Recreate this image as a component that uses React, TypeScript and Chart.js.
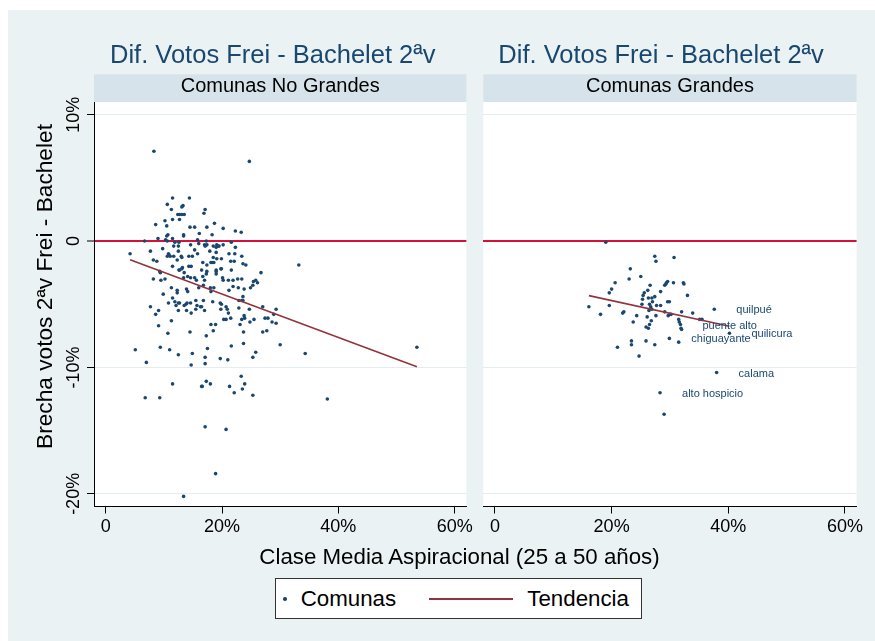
import React, { useEffect, useRef } from 'react';
import { Chart, registerables } from 'chart.js';

Chart.register(...registerables);

const FONT = '"Liberation Sans", Arial, Helvetica, sans-serif';
const NAVY = '#1A476F';
const MAROON = '#90353B';
const RED = '#D6103C';
const BG = '#EAF2F3';
const STRIP = '#D7E3EA';
const GRID = '#E3ECEE';

const panelTitle = 'Dif. Votos Frei - Bachelet 2ªv';
const stripLabels = ['Comunas No Grandes', 'Comunas Grandes'];
const yAxisTitle = 'Brecha votos 2ªv Frei - Bachelet';
const xAxisTitle = 'Clase Media Aspiracional (25 a 50 años)';
const legendLabels = ['Comunas', 'Tendencia'];
const xTicks = [0, 20, 40, 60];
const yTicks = [-20, -10, 0, 10];
const xRange = [-2.0, 62.0];
const yRange = [-21.0, 11.0];

// Comunas No Grandes (x: % clase media aspiracional, y: brecha %)
const leftX = [
  8.3, 24.7, 11.5, 14.4, 10.6, 11.3, 13.3, 13.1, 17.1, 16.9, 12.4, 12.7, 13.1, 13.5, 11.5, 12.7,
  10.2, 10.5, 8.6, 18.7, 14.5, 15.3, 17.4, 20.2, 22.3, 23.3, 16.1, 10.7, 10.5, 13.4, 13.4, 18.3,
  9.0, 11.5, 6.7, 10.3, 10.6, 15.8, 11.9, 12.6, 17.3, 21.6, 14.6, 16.0, 17.0, 17.4, 17.1, 19.1,
  19.5, 20.2, 18.5, 19.3, 19.0, 11.7, 12.5, 22.3, 9.8, 7.7, 12.5, 15.3, 15.8, 17.9, 19.0, 21.2,
  22.2, 23.4, 10.8, 10.9, 10.6, 11.1, 11.7, 13.0, 13.1, 14.3, 14.9, 8.2, 8.8, 12.3, 18.5, 19.9,
  21.5, 22.1, 18.1, 18.3, 16.7, 17.4, 18.6, 19.1, 14.7, 13.2, 11.5, 12.6, 14.3, 16.5, 17.4, 12.7,
  13.1, 19.0, 19.8, 19.9, 21.6, 23.6, 24.1, 26.7, 33.2, 9.3, 9.4, 13.5, 19.0, 4.2, 8.2, 9.5,
  10.2, 13.4, 14.1, 14.6, 15.3, 15.6, 16.7, 17.3, 17.0, 16.8, 19.0, 20.1, 20.2, 21.1, 21.9, 22.7,
  23.4, 21.9, 21.2, 22.8, 23.8, 24.9, 25.3, 25.4, 25.8, 26.1, 9.9, 11.3, 12.3, 12.3, 13.9, 14.1,
  16.0, 18.0, 18.6, 18.1, 23.6, 23.6, 22.9, 11.5, 10.8, 11.9, 12.5, 12.7, 13.5, 13.8, 14.0, 14.6,
  15.5, 15.7, 16.3, 16.5, 16.8, 17.0, 15.5, 14.7, 13.9, 12.5, 12.1, 7.7, 9.1, 8.6, 18.4, 19.7,
  19.9, 20.7, 20.9, 19.8, 20.3, 20.7, 21.5, 21.1, 23.4, 22.9, 24.7, 23.8, 23.4, 23.9, 25.5, 24.8,
  27.0, 27.4, 27.9, 28.9, 29.3, 28.6, 29.3, 9.1, 11.3, 10.7, 14.5, 17.3, 18.5, 18.1, 18.9, 23.7,
  23.1, 27.0, 27.7, 21.6, 23.7, 9.4, 11.0, 17.5, 5.1, 30.0, 12.5, 14.9, 17.1, 19.7, 21.0, 25.3,
  25.8, 34.3, 7.0, 17.1, 14.7, 53.5, 23.3, 11.5, 17.3, 16.5, 16.6, 18.0, 21.3, 23.9, 23.5, 22.1,
  25.3, 6.8, 9.3, 38.1, 17.1, 20.7, 18.9, 13.4,
];
const leftY = [
  7.1, 6.3, 3.4, 3.4, 2.9, 2.5, 2.8, 2.7, 2.5, 2.2, 2.1, 2.1, 2.1, 2.1, 1.7, 1.7,
  1.6, 1.2, 1.3, 1.4, 1.1, 1.1, 1.1, 1.0, 0.8, 0.7, 0.6, 0.5, 0.4, 0.5, 0.4, 0.5,
  0.2, 0.2, 0.0, 0.1, 0.0, 0.1, -0.1, -0.1, 0.0, -0.1, -0.3, -0.2, -0.3, -0.3, -0.4, -0.3,
  -0.4, -0.3, -0.4, -0.4, -0.5, -0.4, -0.4, -0.5, -0.6, -0.8, -0.8, -0.7, -1.0, -0.8, -0.9, -1.0,
  -1.0, -1.2, -1.0, -1.1, -1.2, -1.2, -1.2, -1.2, -1.3, -1.2, -1.2, -1.5, -1.6, -1.5, -1.3, -1.4,
  -1.6, -1.6, -1.7, -1.7, -1.7, -1.9, -1.7, -1.4, -2.0, -2.1, -2.0, -2.3, -2.0, -2.3, -2.4, -2.3,
  -2.2, -2.3, -2.2, -2.2, -2.3, -1.8, -1.9, -2.5, -1.9, -2.4, -2.5, -2.5, -2.4, -1.0, -3.0, -3.1,
  -3.0, -2.9, -2.8, -2.9, -2.9, -3.1, -2.8, -2.6, -3.1, -3.5, -2.6, -2.9, -3.1, -3.1, -3.1, -3.0,
  -3.0, -3.6, -3.9, -3.7, -3.8, -3.7, -3.5, -3.2, -3.1, -3.3, -4.2, -3.7, -3.9, -4.1, -3.8, -4.0,
  -3.7, -3.7, -3.7, -4.0, -4.4, -4.7, -4.7, -4.5, -4.9, -4.8, -4.9, -4.9, -5.1, -5.0, -4.9, -4.9,
  -4.7, -5.1, -5.2, -5.2, -4.7, -5.5, -5.4, -5.7, -5.5, -5.5, -5.1, -5.2, -5.5, -5.8, -4.8, -4.9,
  -5.0, -5.2, -5.4, -5.4, -6.2, -6.2, -6.1, -5.7, -4.7, -5.3, -5.4, -5.9, -6.2, -6.1, -6.2, -6.4,
  -5.2, -6.1, -6.1, -5.8, -5.4, -6.4, -6.5, -6.7, -6.3, -7.3, -7.2, -7.5, -7.1, -6.6, -6.6, -7.2,
  -6.6, -7.2, -7.1, -8.3, -8.1, -8.4, -8.6, -8.5, -8.6, -8.2, -9.0, -8.9, -9.2, -9.3, -9.4, -9.2,
  -8.8, -8.9, -9.6, -9.7, -9.8, -8.4, -10.7, -11.3, -11.1, -11.5, -11.5, -11.3, -11.5, -11.3, -11.7, -12.0,
  -12.2, -12.4, -12.4, -12.5, -14.7, -14.9, -18.4, -20.2,
];

// Comunas Grandes (unlabelled points)
const rightX = [
  19.0, 27.4, 27.6, 30.7, 23.2, 23.0, 25.0, 20.6, 20.0, 19.6, 19.6, 16.1, 18.1, 26.6, 26.2, 25.6,
  25.4, 25.3, 25.2, 26.3, 26.9, 27.4, 27.0, 26.5, 26.7, 26.9, 26.4, 28.4, 27.7, 28.4, 29.1, 29.4,
  29.6, 29.3, 30.6, 32.3, 32.4, 33.0, 29.6, 29.9, 29.1, 29.7, 30.0, 30.2, 32.0, 33.9, 35.1, 35.5,
  31.5, 31.6, 31.9, 32.0, 22.1, 21.9, 24.3, 23.7, 26.1, 26.8, 26.5, 25.9, 26.3, 27.6, 23.4, 23.4,
  25.9, 27.4, 31.5, 21.0, 24.7, 29.0,
];
const rightY = [
  -0.1, -1.2, -1.6, -1.3, -2.2, -3.0, -2.8, -3.3, -3.8, -4.1, -5.1, -5.2, -5.8, -3.5, -3.9, -4.1,
  -4.3, -4.6, -5.0, -4.5, -4.5, -4.4, -4.8, -5.0, -5.2, -5.4, -5.5, -4.0, -5.1, -5.1, -3.5, -3.3,
  -3.2, -3.4, -3.3, -3.3, -3.4, -4.3, -4.8, -4.8, -5.6, -5.9, -5.8, -5.8, -5.6, -5.7, -6.2, -6.2,
  -6.2, -6.4, -6.9, -7.0, -5.6, -5.7, -5.9, -6.4, -6.0, -6.3, -6.6, -6.8, -6.9, -5.9, -7.9, -8.2,
  -7.9, -8.2, -8.0, -8.4, -9.1, -13.7,
];

// Comunas Grandes (labelled points)
const labelNames = ['quilpué', 'puente alto', 'quilicura', 'chiguayante', 'calama', 'alto hospicio'];
const labelX = [37.6, 31.8, 40.2, 29.9, 38.0, 28.3];
const labelY = [-5.4, -6.6, -7.3, -7.7, -10.4, -12.0];

// Tendencia (linear fit endpoints)
const trendLeftX = [4.2, 53.5];
const trendLeftY = [-1.48, -9.95];
const trendRightX = [16.1, 40.2];
const trendRightY = [-4.32, -6.74];

const toPoints = (xs: number[], ys: number[]) => xs.map((x, i) => ({ x, y: ys[i] }));

type PanelOpts = {
  strip: string;
  showYAxis: boolean;
  padLeft: number;
  padRight: number;
  titleOffset: number;
  labels: boolean;
};

function makeDecor(o: PanelOpts) {
  return {
    id: 'panelDecor',
    beforeDraw(chart: any) {
      const { ctx, chartArea: a } = chart;
      ctx.save();
      ctx.fillStyle = '#ffffff';
      ctx.fillRect(a.left, a.top, a.right - a.left, a.bottom - a.top);
      // strip
      ctx.fillStyle = STRIP;
      ctx.fillRect(a.left, a.top - 27.7, a.right - a.left, 27.7);
      ctx.fillStyle = '#000';
      ctx.font = `20px ${FONT}`;
      ctx.textAlign = 'center';
      ctx.textBaseline = 'alphabetic';
      ctx.fillText(o.strip, (a.left + a.right) / 2, a.top - 10.3);
      // title
      ctx.fillStyle = NAVY;
      ctx.font = `25.5px ${FONT}`;
      ctx.textAlign = 'left';
      ctx.fillText(panelTitle, a.left + o.titleOffset, a.top - 38.7);
      if (o.showYAxis) {
        const ys = chart.scales.y;
        ctx.fillStyle = '#000';
        ctx.font = `18px ${FONT}`;
        ctx.textAlign = 'center';
        yTicks.forEach((v) => {
          const py = ys.getPixelForValue(v);
          ctx.save();
          ctx.translate(a.left - 14.7, py);
          ctx.rotate(-Math.PI / 2);
          ctx.fillText(v === 0 ? '0' : `${v}%`, 0, 0);
          ctx.restore();
        });
        ctx.save();
        ctx.font = `22.7px ${FONT}`;
        ctx.translate(43.7, 276.5);
        ctx.rotate(-Math.PI / 2);
        ctx.fillText(yAxisTitle, 0, 0);
        ctx.restore();
      }
      ctx.restore();
    },
    afterDatasetsDraw(chart: any) {
      if (!o.labels) return;
      const { ctx } = chart;
      const xs = chart.scales.x;
      const ys = chart.scales.y;
      ctx.save();
      ctx.fillStyle = NAVY;
      ctx.font = `11px ${FONT}`;
      ctx.textAlign = 'left';
      ctx.textBaseline = 'middle';
      labelNames.forEach((name, i) => {
        const px = xs.getPixelForValue(labelX[i]);
        const py = ys.getPixelForValue(labelY[i]);
        ctx.fillText(name, px + 22, py + 1);
      });
      ctx.restore();
    },
  };
}

function makeConfig(points: { x: number; y: number }[], trend: { x: number; y: number }[], o: PanelOpts): any {
  return {
    type: 'scatter',
    data: {
      datasets: [
        {
          type: 'line',
          label: legendLabels[1],
          data: trend,
          borderColor: MAROON,
          borderWidth: 1.6,
          pointRadius: 0,
          fill: false,
          order: 0,
        },
        {
          type: 'scatter',
          label: legendLabels[0],
          data: points,
          backgroundColor: NAVY,
          borderWidth: 0,
          pointRadius: 1.8,
          pointBorderWidth: 0,
          order: 1,
        },
      ],
    },
    options: {
      animation: false,
      responsive: false,
      devicePixelRatio: 1,
      events: [],
      layout: { padding: { left: o.padLeft, right: o.padRight, top: 92, bottom: 0 } },
      plugins: {
        legend: { display: false },
        tooltip: { enabled: false },
        title: { display: false },
      },
      scales: {
        x: {
          type: 'linear',
          position: 'bottom',
          min: xRange[0],
          max: xRange[1],
          afterBuildTicks: (s: any) => {
            s.ticks = xTicks.map((v) => ({ value: v }));
          },
          afterFit: (s: any) => {
            s.height = 134.5;
          },
          grid: {
            drawOnChartArea: false,
            drawTicks: true,
            tickLength: 7,
            tickColor: '#000',
            color: '#000',
          },
          border: { display: true, color: '#000', width: 1 },
          ticks: {
            font: { size: 18, family: FONT },
            color: '#000',
            padding: 3,
            maxRotation: 0,
            minRotation: 0,
            autoSkip: false,
            callback: (v: number) => (v === 0 ? '0' : `${v}%`),
          },
        },
        y: {
          type: 'linear',
          position: 'left',
          min: yRange[0],
          max: yRange[1],
          afterBuildTicks: (s: any) => {
            s.ticks = yTicks.map((v) => ({ value: v }));
          },
          afterFit: (s: any) => {
            s.width = o.showYAxis ? 86 : 0;
          },
          grid: {
            color: (c: any) => (c.tick && c.tick.value === 0 ? RED : GRID),
            lineWidth: (c: any) => (c.tick && c.tick.value === 0 ? 2 : 1),
            drawTicks: o.showYAxis,
            tickLength: 7,
            tickColor: '#000',
            tickWidth: 1,
          },
          border: { display: o.showYAxis, color: '#000', width: 1 },
          ticks: { display: false },
        },
      },
    },
    plugins: [makeDecor(o)],
  };
}

export default function App() {
  const leftRef = useRef<HTMLCanvasElement>(null);
  const rightRef = useRef<HTMLCanvasElement>(null);

  useEffect(() => {
    const leftOpts: PanelOpts = {
      strip: stripLabels[0],
      showYAxis: true,
      padLeft: 0,
      padRight: 8.3,
      titleOffset: 16,
      labels: false,
    };
    const rightOpts: PanelOpts = {
      strip: stripLabels[1],
      showYAxis: false,
      padLeft: 7.3,
      padRight: 18.4,
      titleOffset: 15,
      labels: true,
    };
    const left = new Chart(
      leftRef.current as HTMLCanvasElement,
      makeConfig(toPoints(leftX, leftY), toPoints(trendLeftX, trendLeftY), leftOpts)
    );
    const right = new Chart(
      rightRef.current as HTMLCanvasElement,
      makeConfig(
        toPoints(rightX.concat(labelX), rightY.concat(labelY)),
        toPoints(trendRightX, trendRightY),
        rightOpts
      )
    );
    return () => {
      left.destroy();
      right.destroy();
    };
  }, []);

  const textStyle: React.CSSProperties = {
    position: 'absolute',
    fontFamily: FONT,
    fontSize: '22.3px',
    lineHeight: '22px',
    whiteSpace: 'nowrap',
    color: '#000',
  };

  return (
    <div
      style={{
        position: 'absolute',
        left: 8,
        top: 10,
        width: 867,
        height: 631,
        background: BG,
        overflow: 'hidden',
      }}
    >
      <canvas ref={leftRef} width={468} height={631} style={{ position: 'absolute', left: 0, top: 0 }} />
      <canvas ref={rightRef} width={399} height={631} style={{ position: 'absolute', left: 468, top: 0 }} />
      <div style={{ ...textStyle, left: 151.5, width: 600, top: 536.4, textAlign: 'center' }}>{xAxisTitle}</div>
      <div
        style={{
          position: 'absolute',
          left: 266.7,
          top: 568.3,
          width: 367.6,
          height: 41,
          boxSizing: 'border-box',
          border: '1px solid #333',
          background: '#fff',
        }}
      >
        <div
          style={{
            position: 'absolute',
            left: 7.5,
            top: 18.2,
            width: 3.6,
            height: 3.6,
            borderRadius: '50%',
            background: NAVY,
          }}
        />
        <div style={{ ...textStyle, left: 25, top: 8.8 }}>{legendLabels[0]}</div>
        <div style={{ position: 'absolute', left: 153.6, top: 18.4, width: 84, height: 2, background: MAROON }} />
        <div style={{ ...textStyle, left: 251.6, top: 8.8 }}>{legendLabels[1]}</div>
      </div>
    </div>
  );
}
